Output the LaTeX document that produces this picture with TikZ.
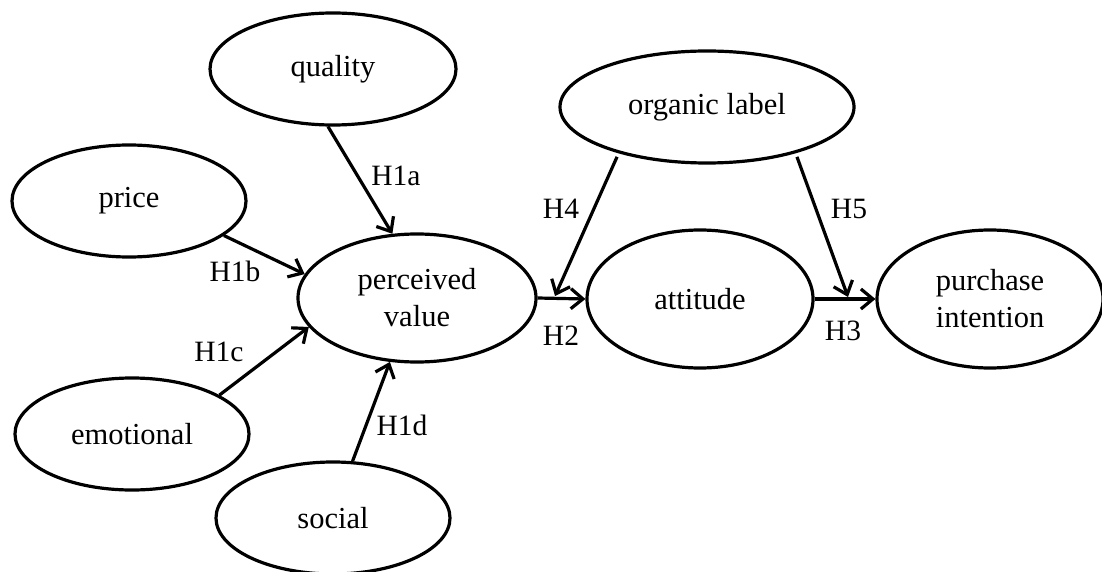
\documentclass[tikz,border=0pt]{standalone}
\usepackage{fontspec}
\setmainfont{Liberation Serif}
\usetikzlibrary{shapes.geometric,arrows.meta,calc}
\begin{document}
\begin{tikzpicture}[x=1pt,y=-1pt,
  construct/.style={draw=black, line width=3.2pt, ellipse, inner sep=0pt,
    align=center, font=\fontsize{30.5}{37}\selectfont},
  link/.style={line width=3.2pt, -{Straight Barb[length=12pt,width=20pt,line width=3.2pt]}},
  hyp/.style={font=\fontsize{29.5}{34}\selectfont, inner sep=0pt}]
\useasboundingbox (0,0) rectangle (1102,572);
% constructs
\node[construct, minimum width=246pt, minimum height=112pt] (quality) at (333,69) {quality};
\node[construct, minimum width=234pt, minimum height=112pt] (price) at (129,201) {price};
\node[construct, minimum width=234pt, minimum height=112pt] (emotional) at (132,434) {emotional};
\node[construct, minimum width=234pt, minimum height=112pt] (social) at (333,518) {social};
\node[construct, minimum width=238pt, minimum height=128pt] (pv) at (417,298) {perceived\\value};
\node[construct, minimum width=294pt, minimum height=112pt] (organic) at (707,107) {organic label};
\node[construct, minimum width=226pt, minimum height=138pt] (attitude) at (700,299) {attitude};
\node[construct, minimum width=226pt, minimum height=138pt] (purchase) at (990,299) {purchase\\intention};
% connectors
\draw[link] (quality.-95) -- (pv.111);
\draw[link] (price.-20) -- (pv.168);
\draw[link] (emotional.24) -- (pv.195);
\draw[link] (social.71) -- (pv.247);
\draw[link] (pv.east) -- (attitude.west);
\draw[link] (attitude.east) -- (purchase.west);
\coordinate (h4end) at (555,296);
\coordinate (h5end) at (848,297);
\draw[link] ([yshift=-4pt]organic.207) -- (h4end);
\draw[link] ([yshift=-4pt]organic.-27) -- (h5end);
% hypothesis labels
\node[hyp] (h1a) at (396,176) {H1a};
\node[hyp] (h1b) at (235,271) {H1b};
\node[hyp] (h1c) at (219,352) {H1c};
\node[hyp] (h1d) at (402,425) {H1d};
\node[hyp] (h4) at (561,209) {H4};
\node[hyp] (h2) at (561,336) {H2};
\node[hyp] (h5) at (849,209) {H5};
\node[hyp] (h3) at (843,331) {H3};
\end{tikzpicture}
\end{document}
